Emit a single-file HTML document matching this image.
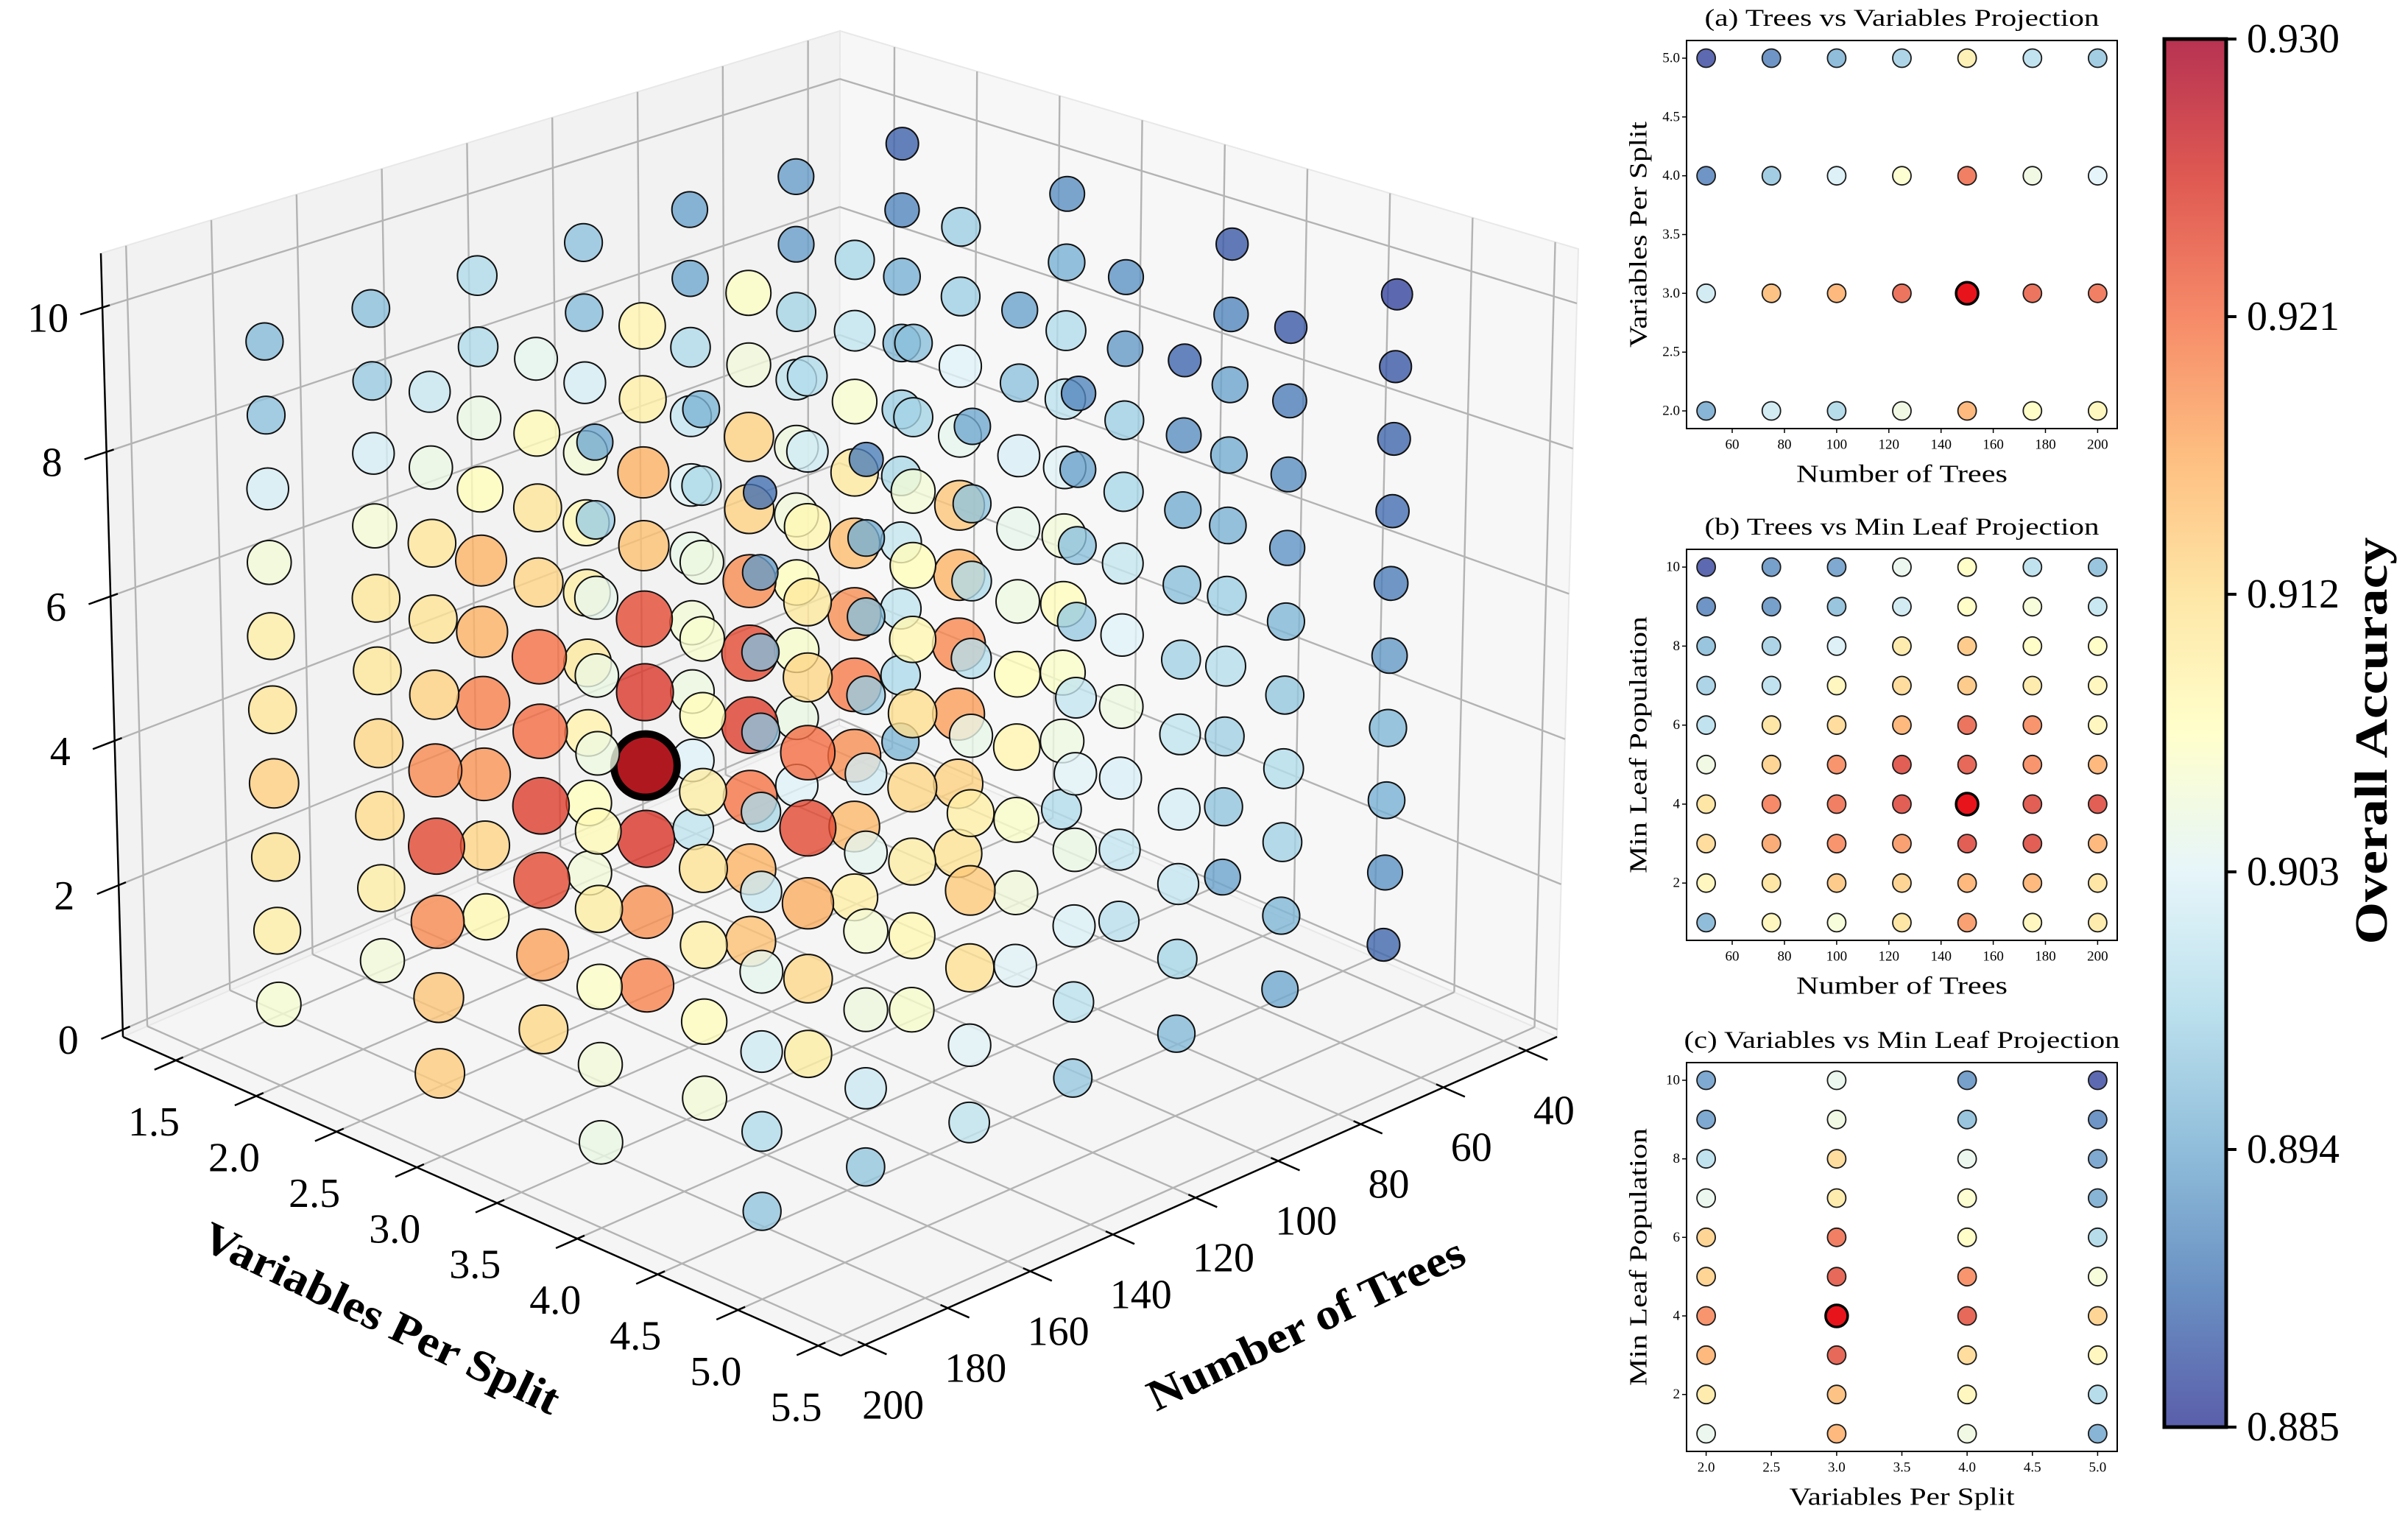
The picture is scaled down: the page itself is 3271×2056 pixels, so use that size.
<!DOCTYPE html>
<html><head><meta charset="utf-8"><style>
html,body{margin:0;padding:0;background:#fff;}
svg{display:block;font-family:"Liberation Serif",serif;}
</style></head><body>
<svg id="fig" xmlns="http://www.w3.org/2000/svg" width="3271" height="2056" viewBox="0 0 3271 2056">
<defs>
<linearGradient id="cbgrad" x1="0" y1="1" x2="0" y2="0">
<stop offset="0" stop-color="#313695"/><stop offset="0.1" stop-color="#4575b4"/><stop offset="0.2" stop-color="#74add1"/><stop offset="0.3" stop-color="#abd9e9"/><stop offset="0.4" stop-color="#e0f3f8"/><stop offset="0.5" stop-color="#ffffbf"/><stop offset="0.6" stop-color="#fee090"/><stop offset="0.7" stop-color="#fdae61"/><stop offset="0.8" stop-color="#f46d43"/><stop offset="0.9" stop-color="#d73027"/><stop offset="1" stop-color="#a50026"/>
</linearGradient>
</defs>
<g id="main3d"></g>
<g id="panels"></g>
<g id="cbar"></g>
</svg>
<script>
// ---- data ----
const trees = [50, 75, 100, 125, 150, 175, 200];
const varsPerSplit = [2, 3, 4, 5];
const leafs = [1, 2, 3, 4, 5, 6, 7, 8, 9, 10];
// projection (a): rows = trees, cols = vars 2..5
const accTV = [
  [0.893, 0.901, 0.890, 0.886],
  [0.901, 0.916, 0.896, 0.890],
  [0.898, 0.917, 0.902, 0.894],
  [0.905, 0.923, 0.907, 0.897],
  [0.917, 0.930, 0.922, 0.910],
  [0.908, 0.923, 0.905, 0.899],
  [0.909, 0.922, 0.903, 0.896]
];
// projection (b): rows = trees, cols = leaf 1..10
const accTL = [
  [0.894, 0.909, 0.913, 0.912, 0.905, 0.899, 0.897, 0.895, 0.890, 0.886],
  [0.909, 0.912, 0.918, 0.921, 0.914, 0.912, 0.899, 0.897, 0.891, 0.891],
  [0.906, 0.915, 0.920, 0.922, 0.920, 0.913, 0.909, 0.902, 0.895, 0.892],
  [0.912, 0.914, 0.919, 0.925, 0.925, 0.917, 0.913, 0.911, 0.901, 0.904],
  [0.919, 0.917, 0.925, 0.930, 0.924, 0.923, 0.915, 0.915, 0.908, 0.908],
  [0.909, 0.917, 0.925, 0.925, 0.920, 0.920, 0.911, 0.908, 0.906, 0.899],
  [0.911, 0.912, 0.917, 0.925, 0.917, 0.909, 0.909, 0.908, 0.900, 0.895]
];
// projection (c): rows = vars, cols = leaf 1..10
const accVL = [
  [0.904, 0.911, 0.917, 0.920, 0.914, 0.914, 0.904, 0.899, 0.892, 0.892],
  [0.917, 0.916, 0.924, 0.930, 0.924, 0.922, 0.911, 0.913, 0.905, 0.904],
  [0.905, 0.909, 0.913, 0.924, 0.920, 0.908, 0.907, 0.904, 0.895, 0.891],
  [0.893, 0.898, 0.909, 0.914, 0.906, 0.898, 0.893, 0.892, 0.890, 0.886]
];
const cbTicks = [0.885, 0.894, 0.903, 0.912, 0.921, 0.930];
const varTicks3d = [1.5, 2.0, 2.5, 3.0, 3.5, 4.0, 4.5, 5.0, 5.5];
const treeTicks3d = [40, 60, 80, 100, 120, 140, 160, 180, 200];
const zTicks3d = [0, 2, 4, 6, 8, 10];
const treeTicks2d = [60, 80, 100, 120, 140, 160, 180, 200];
const varTicks2d = [2.0, 2.5, 3.0, 3.5, 4.0, 4.5, 5.0];
const leafTicks2d = [2, 4, 6, 8, 10];

const NS = "http://www.w3.org/2000/svg";
function mk(tag, attrs, parent, text) {
  const e = document.createElementNS(NS, tag);
  for (const k in attrs) e.setAttribute(k, attrs[k]);
  if (text !== undefined) e.textContent = text;
  parent.appendChild(e);
  return e;
}
const cmapStops = ["#313695","#4575b4","#74add1","#abd9e9","#e0f3f8","#ffffbf","#fee090","#fdae61","#f46d43","#d73027","#a50026"];
function hex2rgb(h){return [parseInt(h.slice(1,3),16),parseInt(h.slice(3,5),16),parseInt(h.slice(5,7),16)];}
const VMIN = 0.885, VMAX = 0.930;
function cmap(v) {
  let t = Math.max(0, Math.min(1, (v - VMIN) / (VMAX - VMIN))) * 10;
  const i = Math.min(9, Math.floor(t)), f = t - i;
  const a = hex2rgb(cmapStops[i]), b = hex2rgb(cmapStops[i + 1]);
  return "rgb(" + a.map((x, k) => Math.round(x + (b[k] - x) * f)).join(",") + ")";
}
let best = -1;
accTV.forEach(r => r.forEach(v => { if (v > best) best = v; }));

// ---- 3D projection ----
const VL = [1.17, 5.64], TL = [32.5, 205.9], ZL = [-0.1, 10.75];
const cB = [1140, 985], cR = [2115, 1408], cL = [167, 1408], cF = [1142, 1841];
const tB = [1141, 42], tR = [2144, 338], tL = [137, 344], tF = [1142, 640];
function P(v, t, z) {
  const u = (v - VL[0]) / (VL[1] - VL[0]);
  const w = (t - TL[0]) / (TL[1] - TL[0]);
  const h = (z - ZL[0]) / (ZL[1] - ZL[0]);
  const a = (1 - u) * (1 - w), b = u * (1 - w), c = (1 - u) * w, d = u * w;
  const bx = a * cB[0] + b * cR[0] + c * cL[0] + d * cF[0];
  const by = a * cB[1] + b * cR[1] + c * cL[1] + d * cF[1];
  const tx = a * tB[0] + b * tR[0] + c * tL[0] + d * tF[0];
  const ty = a * tB[1] + b * tR[1] + c * tL[1] + d * tF[1];
  return [bx + (tx - bx) * h, by + (ty - by) * h, u + w + 0.25 * h];
}
const g3 = document.getElementById("main3d");
function poly(pts, fill, name) {
  const p = mk("polygon", {points: pts.map(q => q[0].toFixed(1) + "," + q[1].toFixed(1)).join(" "), fill: fill, stroke: "#e8e8e8", "stroke-width": 2}, g3);
  
  
}
function line(a, b, stroke, sw, name, parent) {
  const l = mk("line", {x1: a[0].toFixed(1), y1: a[1].toFixed(1), x2: b[0].toFixed(1), y2: b[1].toFixed(1), stroke: stroke, "stroke-width": sw}, parent || g3);
  
  
  return l;
}
poly([P(VL[0],TL[0],ZL[0]), P(VL[0],TL[1],ZL[0]), P(VL[0],TL[1],ZL[1]), P(VL[0],TL[0],ZL[1])], "#f2f2f2", "left-wall-pane");
poly([P(VL[0],TL[0],ZL[0]), P(VL[1],TL[0],ZL[0]), P(VL[1],TL[0],ZL[1]), P(VL[0],TL[0],ZL[1])], "#f7f7f7", "right-wall-pane");
poly([P(VL[0],TL[0],ZL[0]), P(VL[1],TL[0],ZL[0]), P(VL[1],TL[1],ZL[0]), P(VL[0],TL[1],ZL[0])], "#f5f5f5", "floor-pane");
const GC = "#b3b3b3", GW = 2.4;
varTicks3d.forEach(v => {
  line(P(v, TL[0], ZL[0]), P(v, TL[1], ZL[0]), GC, GW, "floor-grid-vars");
  line(P(v, TL[0], ZL[0]), P(v, TL[0], ZL[1]), GC, GW, "wall-grid-vars");
});
treeTicks3d.forEach(t => {
  line(P(VL[0], t, ZL[0]), P(VL[1], t, ZL[0]), GC, GW, "floor-grid-trees");
  line(P(VL[0], t, ZL[0]), P(VL[0], t, ZL[1]), GC, GW, "wall-grid-trees");
});
zTicks3d.forEach(z => {
  line(P(VL[0], TL[0], z), P(VL[0], TL[1], z), GC, GW, "wall-grid-z");
  line(P(VL[0], TL[0], z), P(VL[1], TL[0], z), GC, GW, "wall-grid-z");
});
line(P(VL[0], TL[1], ZL[0]), P(VL[1], TL[1], ZL[0]), "#000", 2.5, "vars-axis-line");
line(P(VL[1], TL[1], ZL[0]), P(VL[1], TL[0], ZL[0]), "#000", 2.5, "trees-axis-line");
line(P(VL[0], TL[1], ZL[0]), P(VL[0], TL[1], ZL[1]), "#000", 2.5, "z-axis-line");
const tSpan = TL[1] - TL[0], vSpan = VL[1] - VL[0];
function txt(x, y, s, size, attrs, name, parent) {
  const a = Object.assign({x: x.toFixed(1), y: y.toFixed(1), "font-size": size, "text-anchor": "middle", "dominant-baseline": "central", fill: "#000"}, attrs || {});
  const e = mk("text", a, parent || g3, s);
  
  
  return e;
}
varTicks3d.forEach(v => {
  line(P(v, TL[1] - 0.01 * tSpan, ZL[0]), P(v, TL[1] + 0.03 * tSpan, ZL[0]), "#000", 2.5, "vars-tick");
  const p = P(v, TL[1], ZL[0]);
  txt(p[0] - 30, p[1] + 84, v.toFixed(1), 56, {}, "vars-tick-label");
});
treeTicks3d.forEach(t => {
  line(P(VL[1] - 0.01 * vSpan, t, ZL[0]), P(VL[1] + 0.03 * vSpan, t, ZL[0]), "#000", 2.5, "trees-tick");
  const p = P(VL[1], t, ZL[0]);
  txt(p[0] + 38, p[1] + 82, String(t), 56, {}, "trees-tick-label");
});
zTicks3d.forEach(z => {
  line(P(VL[0], TL[1] - 0.01 * tSpan, z), P(VL[0], TL[1] + 0.03 * tSpan, z), "#000", 2.5, "z-tick");
  const p = P(VL[0], TL[1], z);
  txt(p[0] - 74, p[1] + 15, String(z), 56, {}, "z-tick-label");
});
txt(518, 1790, "Variables Per Split", 60, {"font-weight": "bold", transform: "rotate(25.5 518 1790)", textLength: 530, lengthAdjust: "spacingAndGlyphs"}, "vars-axis-title");
txt(1774, 1798, "Number of Trees", 60, {"font-weight": "bold", transform: "rotate(-25.5 1774 1798)", textLength: 470, lengthAdjust: "spacingAndGlyphs"}, "trees-axis-title");

const pts = [];
trees.forEach((t, ti) => varsPerSplit.forEach((v, vi) => leafs.forEach((l, li) => {
  const a = accTV[ti][vi], b = accTL[ti][li], c = accVL[vi][li];
  const acc = 0.5 * Math.min(a, b, c) + 0.5 * (a + b + c) / 3;
  const p = P(v, t, l);
  pts.push({p: p, acc: acc, isBest: a >= best && b >= best && c >= best});
})));
pts.sort((a, b) => a.p[2] - b.p[2]);
pts.forEach(d => {
  const isBest = d.isBest;
  const r = isBest ? 43 : 21 + (d.acc - 0.886) * 450;
  const c = mk("circle", {cx: d.p[0].toFixed(1), cy: d.p[1].toFixed(1), r: r.toFixed(1),
    fill: isBest ? "#b01820" : cmap(d.acc), "fill-opacity": isBest ? 1 : 0.8,
    stroke: isBest ? "#050000" : "#111", "stroke-width": isBest ? 10 : 2}, g3);
  
  
});

// ---- projection panels ----
const gp = document.getElementById("panels");
function panel(cfg) {
  const g = mk("g", {}, gp);
  
  
  const X = v => cfg.x0 + (v - cfg.xl[0]) / (cfg.xl[1] - cfg.xl[0]) * (cfg.x1 - cfg.x0);
  const Y = v => cfg.y1 - (v - cfg.yl[0]) / (cfg.yl[1] - cfg.yl[0]) * (cfg.y1 - cfg.y0);
  const fr = mk("rect", {x: cfg.x0, y: cfg.y0, width: cfg.x1 - cfg.x0, height: cfg.y1 - cfg.y0, fill: "#fff", stroke: "#000", "stroke-width": 2}, g);
  
  
  cfg.xt.forEach(v => {
    line([X(v), cfg.y1], [X(v), cfg.y1 + 6], "#000", 1.5, "x-tick", g);
    txt(X(v), cfg.y1 + 22, cfg.xf(v), 19, {}, "x-tick-label", g);
  });
  cfg.yt.forEach(v => {
    line([cfg.x0, Y(v)], [cfg.x0 - 6, Y(v)], "#000", 1.5, "y-tick", g);
    txt(cfg.x0 - 9, Y(v), cfg.yf(v), 19, {"text-anchor": "end"}, "y-tick-label", g);
  });
  txt((cfg.x0 + cfg.x1) / 2, cfg.y0 - 30, cfg.title, 33, {textLength: cfg.tl, lengthAdjust: "spacingAndGlyphs"}, "panel-title", g);
  txt((cfg.x0 + cfg.x1) / 2, cfg.y1 + 62, cfg.xlab, 34, {textLength: cfg.xll, lengthAdjust: "spacingAndGlyphs"}, "x-axis-title", g);
  const yc = (cfg.y0 + cfg.y1) / 2;
  txt(2226, yc, cfg.ylab, 34, {transform: "rotate(-90 2226 " + yc + ")", textLength: cfg.yll, lengthAdjust: "spacingAndGlyphs"}, "y-axis-title", g);
  cfg.xs.forEach((xv, i) => cfg.ys.forEach((yv, j) => {
    const acc = cfg.m[i][j];
    const isBest = acc >= best;
    const c = mk("circle", {cx: X(xv).toFixed(1), cy: Y(yv).toFixed(1), r: isBest ? 15 : 12.5,
      fill: isBest ? "#e8141c" : cmap(acc), "fill-opacity": isBest ? 1 : 0.8,
      stroke: isBest ? "#000" : "#1a1a1a", "stroke-width": isBest ? 3.5 : 1.8}, g);
    
    
  }));
}
panel({name: "panel-a-trees-vs-variables", x0: 2291, x1: 2876, y0: 55, y1: 582, xl: [42.5, 207.5], yl: [1.85, 5.15],
  xt: treeTicks2d, yt: [2.0, 2.5, 3.0, 3.5, 4.0, 4.5, 5.0], xf: v => String(v), yf: v => v.toFixed(1),
  title: "(a) Trees vs Variables Projection", tl: 536, xlab: "Number of Trees", xll: 287, ylab: "Variables Per Split", yll: 307,
  xs: trees, ys: varsPerSplit, m: accTV});
panel({name: "panel-b-trees-vs-min-leaf", x0: 2291, x1: 2876, y0: 746, y1: 1277, xl: [42.5, 207.5], yl: [0.55, 10.45],
  xt: treeTicks2d, yt: leafTicks2d, xf: v => String(v), yf: v => String(v),
  title: "(b) Trees vs Min Leaf Projection", tl: 536, xlab: "Number of Trees", xll: 287, ylab: "Min Leaf Population", yll: 349,
  xs: trees, ys: leafs, m: accTL});
panel({name: "panel-c-variables-vs-min-leaf", x0: 2291, x1: 2876, y0: 1443, y1: 1971, xl: [1.85, 5.15], yl: [0.55, 10.45],
  xt: varTicks2d, yt: leafTicks2d, xf: v => v.toFixed(1), yf: v => String(v),
  title: "(c) Variables vs Min Leaf Projection", tl: 592, xlab: "Variables Per Split", xll: 306, ylab: "Min Leaf Population", yll: 350,
  xs: varsPerSplit, ys: leafs, m: accVL});

// ---- colorbar ----
const gc = document.getElementById("cbar");
const CB = {x: 2940, w: 84, y0: 53, y1: 1938};
const cbY = v => CB.y1 - (v - VMIN) / (VMAX - VMIN) * (CB.y1 - CB.y0);
const cr = mk("rect", {x: CB.x, y: CB.y0, width: CB.w, height: CB.y1 - CB.y0, fill: "url(#cbgrad)", "fill-opacity": 0.8, stroke: "#000", "stroke-width": 5}, gc);


cbTicks.forEach(v => {
  line([CB.x + CB.w, cbY(v)], [CB.x + CB.w + 14, cbY(v)], "#000", 4, "colorbar-tick", gc);
  txt(CB.x + CB.w + 28, cbY(v), v.toFixed(3), 56, {"text-anchor": "start"}, "colorbar-tick-label", gc);
});
txt(3222, 1006, "Overall Accuracy", 62, {"font-weight": "bold", transform: "rotate(-90 3222 1006)", textLength: 553, lengthAdjust: "spacingAndGlyphs"}, "colorbar-title", gc);
</script>
</body></html>
